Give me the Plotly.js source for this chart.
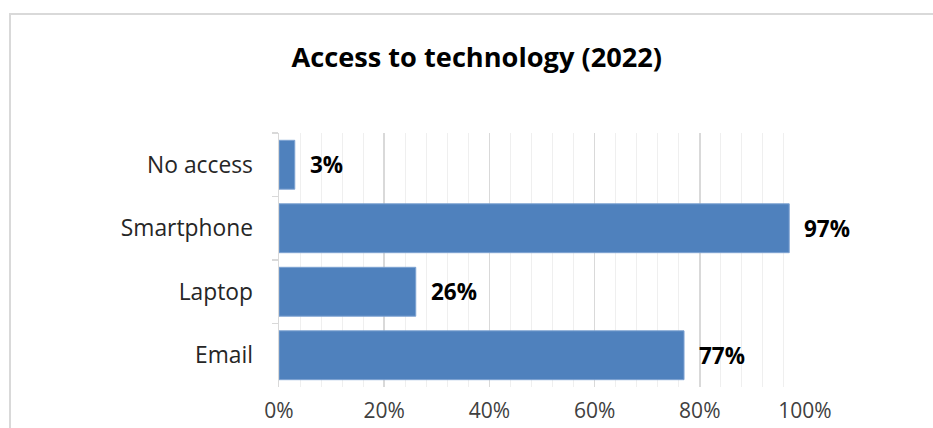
<!DOCTYPE html>
<html>
<head>
<meta charset="utf-8">
<script src="https://cdn.plot.ly/plotly-3.0.1.min.js"></script>
<style>
  html, body { margin: 0; padding: 0; background: #ffffff; }
  #wrap { position: relative; width: 933px; height: 428px; overflow: hidden; }
  #chart { position: absolute; left: 0; top: 0; width: 933px; height: 428px; }
  #frame { position: absolute; left: 9px; top: 13px; width: 940px; height: 440px;
           border-top: 2px solid #d9d9d9; border-left: 2px solid #d9d9d9; pointer-events: none; }
</style>
</head>
<body>
<div id="wrap">
  <div id="chart"></div>
  <div id="frame"></div>
</div>
<script>
const categories = ['No access', 'Smartphone', 'Laptop', 'Email'];
const values = [3, 97, 26, 77];
const valueLabels = ['3%', '97%', '26%', '77%'];
const xTickValues = [0, 20, 40, 60, 80, 100];
const xTickLabels = ['0%', '20%', '40%', '60%', '80%', '100%'];
const chartTitle = 'Access to technology (2022)';

const FONT = '"Open Sans", Lato, sans-serif';

const trace = {
  type: 'bar',
  orientation: 'h',
  y: categories,
  x: values,
  marker: { color: '#4f81bd', line: { color: '#7ea3d2', width: 1 } },
  hoverinfo: 'skip'
};

const annotations = categories.map((c, i) => ({
  x: values[i], y: c, xref: 'x', yref: 'y',
  text: '<b>' + valueLabels[i] + '</b>',
  showarrow: false, xanchor: 'left', yanchor: 'middle', xshift: 13, yshift: 0,
  font: { family: FONT, size: 22.5, color: '#000000' }
}));

const layout = {
  width: 933, height: 428,
  margin: { l: 279, r: 128, t: 133, b: 41 },
  paper_bgcolor: 'rgba(0,0,0,0)',
  plot_bgcolor: 'rgba(0,0,0,0)',
  showlegend: false,
  bargap: 0.23,
  title: {
    text: '<b>' + chartTitle + '</b>',
    x: 0.511, xanchor: 'center', xref: 'container',
    y: 1 - 57 / 428, yanchor: 'middle', yref: 'container',
    font: { family: FONT, size: 27.2, color: '#000000' }
  },
  xaxis: {
    range: [0, 100],
    tickvals: xTickValues, ticktext: xTickLabels,
    showgrid: true, gridcolor: '#d9d9d9', gridwidth: 1.5,
    minor: { dtick: 4, showgrid: true, gridcolor: '#efefef', gridwidth: 1 },
    zeroline: false, showline: false, ticks: '',
    tickfont: { family: FONT, size: 21, color: '#404040' },
    ticklabelstandoff: 9,
    fixedrange: true
  },
  yaxis: {
    type: 'category',
    autorange: 'reversed',
    showgrid: false, zeroline: false,
    showline: true, linecolor: '#d9d9d9', linewidth: 1.5,
    ticks: 'outside', tickson: 'boundaries', ticklen: 6, tickcolor: '#d9d9d9', tickwidth: 1.5,
    tickfont: { family: FONT, size: 22.8, color: '#262626' },
    ticklabelstandoff: 20,
    fixedrange: true
  },
  annotations: annotations
};

Plotly.newPlot('chart', [trace], layout, { displayModeBar: false, staticPlot: true });
</script>
</body>
</html>
